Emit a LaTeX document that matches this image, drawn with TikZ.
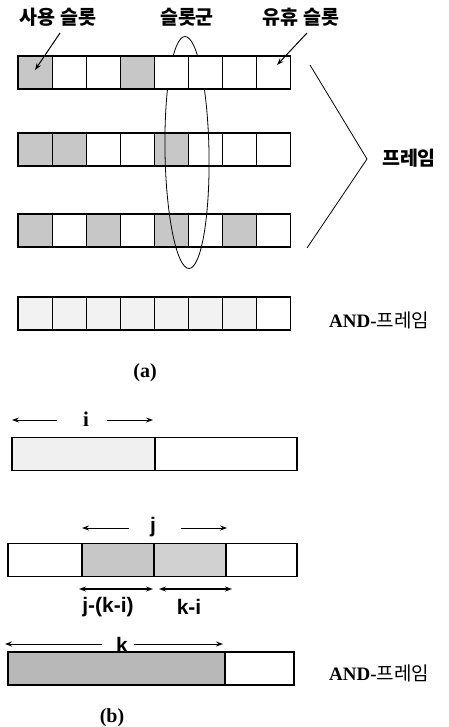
\documentclass[tikz,border=0pt]{standalone}
\usepackage{fontspec}
\setmainfont{Liberation Serif}
\newfontfamily\kr{Noto Sans CJK KR}
\newfontfamily\lsans{Liberation Sans}
\usetikzlibrary{arrows.meta,shapes.geometric}
\begin{document}
\begin{tikzpicture}[x=1pt,y=-1pt,
  cell/.style={draw,line width=1.1pt,minimum width=34.1pt,minimum height=33pt,inner sep=0pt,outer sep=0pt,fill=white},
  used/.style={cell,fill=black!22},
  faint/.style={cell,fill=black!5},
  seg/.style={draw,line width=1.1pt,minimum height=33pt,inner sep=0pt,outer sep=0pt,fill=white},
  krlab/.style={font=\kr\fontsize{19.5}{20}\selectfont\bfseries,inner sep=0pt},
  andlab/.style={font=\fontsize{19}{19}\selectfont\bfseries,inner sep=0pt},
  captxt/.style={font=\fontsize{20}{20}\selectfont\bfseries,inner sep=0pt},
  dimlab/.style={font=\lsans\fontsize{21}{21}\selectfont\bfseries,inner sep=0pt},
  arr/.style={line width=1pt,-{Stealth[length=7pt,width=5pt]}},
  darr/.style={line width=1.1pt,{Stealth[length=7pt,width=5pt]}-{Stealth[length=7pt,width=5pt]}},
  thinline/.style={line width=0.8pt}]
\useasboundingbox (0,0) rectangle (449,727);
% ---------- (a) ----------
% row 2
\foreach \i/\s in {1/used,2/used,3/cell,4/cell,5/used,6/cell,7/cell,8/cell}
  \node[\s] (rb\i) at ({18+34.1*(\i-0.5)},149.5) {};
% row 3
\foreach \i/\s in {1/used,2/cell,3/used,4/cell,5/used,6/cell,7/used,8/cell}
  \node[\s] (rc\i) at ({18+34.1*(\i-0.5)},230.5) {};
% AND row
\foreach \i/\s in {1/faint,2/faint,3/faint,4/faint,5/faint,6/faint,7/faint,8/cell}
  \node[\s] (rd\i) at ({18+34.1*(\i-0.5)},313.5) {};
% slot group ellipse
\node[ellipse,draw,thinline,minimum width=44pt,minimum height=232pt,inner sep=0pt,rotate=1] (grp) at (187,152.5) {};
% row 1
\foreach \i/\s in {1/used,2/cell,3/cell,4/used,5/cell,6/cell,7/cell,8/cell}
  \node[\s] (ra\i) at ({18+34.1*(\i-0.5)},72.5) {};
% labels
\node[krlab] (lused) at (58,17) {사용 슬롯};
\node[krlab] (lgrp) at (187,17) {슬롯군};
\node[krlab] (lidle) at (301,17) {유휴 슬롯};
\coordinate (u0) at (60,33);
\coordinate (u1) at (35,70);
\coordinate (i0) at (307,33);
\coordinate (i1) at (277,65);
\draw[arr] (u0) -- (u1);
\draw[arr] (i0) -- (i1);
% bracket
\coordinate (b1) at (310,65);
\coordinate (b2) at (367,159);
\coordinate (b3) at (307,248);
\draw[thinline] (b1) -- (b2) -- (b3);
\node[krlab] (lframe) at (409,158) {프레임};
\node[andlab,anchor=west] (landa) at (329,320) {AND-{\kr\mdseries 프레임}};
\node[captxt] (capa) at (145,373) {(a)};
% ---------- (b) ----------
\node[seg,fill=black!6,minimum width=143pt] (bi1) at (83.5,454) {};
\node[seg,minimum width=142pt] (bi2) at (226,454) {};
\node[captxt,font=\fontsize{21}{21}\selectfont\bfseries] (li) at (86,419) {i};
\coordinate (ia) at (12,420);
\coordinate (ib) at (153,420);
\draw[arr] (li.west) ++(-26,1) -- (ia);
\draw[arr] (li.east) ++(18,1) -- (ib);

\node[seg,minimum width=74pt] (bj1) at (45,560) {};
\node[seg,fill=black!22,minimum width=72pt] (bj2) at (118,560) {};
\node[seg,fill=black!18,minimum width=72pt] (bj3) at (190,560) {};
\node[seg,minimum width=71pt] (bj4) at (261.5,560) {};
\node[dimlab] (lj) at (153,527) {j};
\coordinate (ja) at (82,528);
\coordinate (jb) at (227,528);
\draw[arr] (lj.west) ++(-21,1) -- (ja);
\draw[arr] (lj.east) ++(25,1) -- (jb);
\coordinate (d1a) at (79,589);
\coordinate (d1b) at (153,589);
\coordinate (d2a) at (159,589);
\coordinate (d2b) at (232,589);
\draw[darr] (d1a) -- (d1b);
\draw[darr] (d2a) -- (d2b);
\node[dimlab] (ljki) at (108,607) {j-(k-i)};
\node[dimlab] (lki) at (189,607) {k-i};

\node[seg,fill=black!28,minimum width=217pt] (bk1) at (116.5,668.5) {};
\node[seg,minimum width=69pt] (bk2) at (259.5,668.5) {};
\node[dimlab] (lk) at (122,645) {k};
\coordinate (ka) at (5,644);
\coordinate (kb) at (223,644);
\draw[arr] (lk.west) ++(-14,-1) -- (ka);
\draw[arr] (lk.east) ++(6,-1) -- (kb);
\node[andlab,anchor=west] (landb) at (329,673) {AND-{\kr\mdseries 프레임}};
\node[captxt,anchor=base] (capb) at (112,722) {(b)};
\end{tikzpicture}
\end{document}
